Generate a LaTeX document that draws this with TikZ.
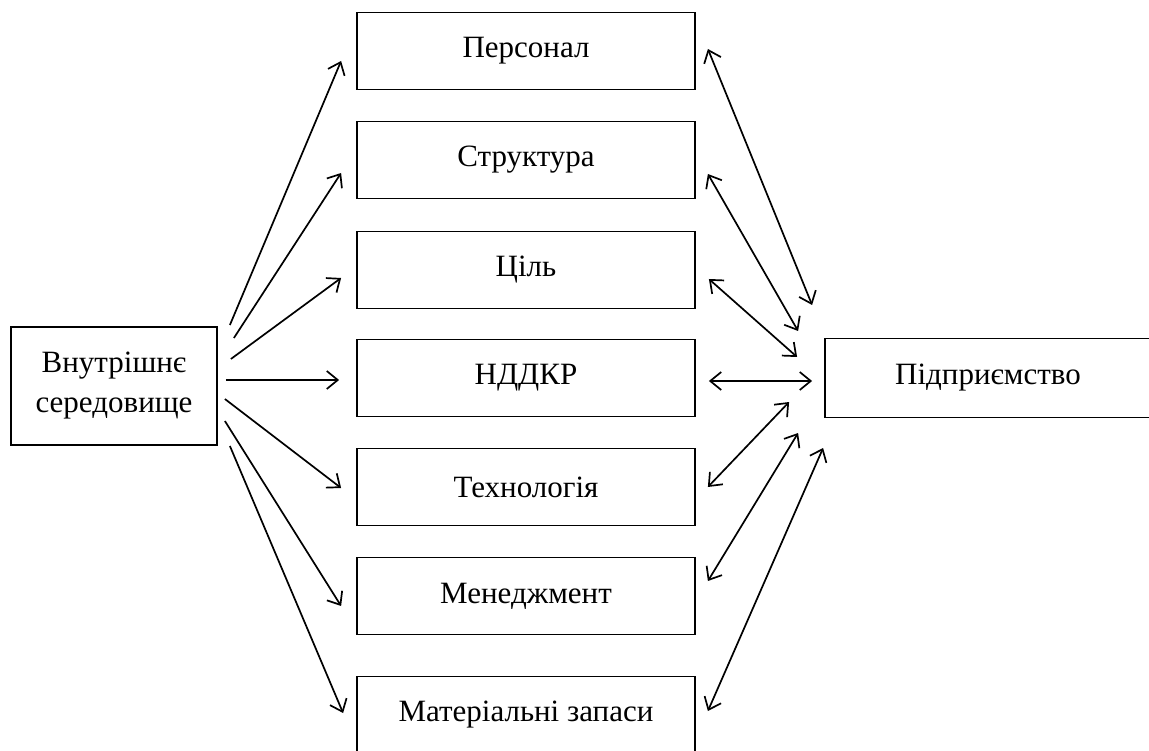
\documentclass[tikz,border=0pt]{standalone}
\usepackage{fontspec}
\setmainfont{Liberation Serif}
\usepackage{tikz}
\usetikzlibrary{arrows.meta}

\tikzset{
  unitbox/.style={draw, line width=1.8pt, inner sep=0pt, align=center,
    font=\fontsize{31}{40}\selectfont},
  midbox/.style={unitbox, minimum width=338pt, minimum height=77pt},
  link/.style={line width=1.7pt, -{Straight Barb[length=11pt, width=18pt, line width=1.7pt]}},
  duallink/.style={line width=1.7pt, {Straight Barb[length=11pt, width=18pt, line width=1.7pt]}-{Straight Barb[length=11pt, width=18pt, line width=1.7pt]}}
}

\begin{document}
\begin{tikzpicture}[x=1pt, y=-1pt]
  \useasboundingbox (0,0) rectangle (1149,751);
  \clip (0,0) rectangle (1149,751);

  % Source
  \node[unitbox, minimum width=206pt, minimum height=118pt] (inner) at (114,386) {Внутрішнє\\середовище};

  % Components
  \node[midbox] (pers)   at (526,51)  {Персонал};
  \node[midbox] (struct) at (526,160) {Структура};
  \node[midbox] (goal)   at (526,270) {Ціль};
  \node[midbox] (rnd)    at (526,378) {НДДКР};
  \node[midbox] (tech)   at (526,487) {Технологія};
  \node[midbox] (mgmt)   at (526,596) {Менеджмент};
  \node[midbox] (stock)  at (526,715) {Матеріальні запаси};

  % Target
  \node[unitbox, minimum width=326pt, minimum height=79pt] (firm) at (988,378) {Підприємство};

  % Fan out
  \draw[link] ([shift={(12,-61)}]inner.east) -- ([shift={(-15,10)}]pers.west);
  \draw[link] ([shift={(16,-48)}]inner.east) -- ([shift={(-15,13)}]struct.west);
  \draw[link] ([shift={(13,-27)}]inner.east) -- ([shift={(-15,8)}]goal.west);
  \draw[link] ([shift={(8,-6)}]inner.east) -- ([shift={(-17,2)}]rnd.west);
  \draw[link] ([shift={(7,13)}]inner.east) -- ([shift={(-15,1)}]tech.west);
  \draw[link] ([shift={(7,35)}]inner.east) -- ([shift={(-15,10)}]mgmt.west);
  \draw[link] ([shift={(12,60)}]inner.east) -- ([shift={(-13,-2)}]stock.west);

  % Two-way links
  \draw[duallink] ([shift={(12,-2)}]pers.east) -- ([shift={(-12,-73)}]firm.west);
  \draw[duallink] ([shift={(12,14)}]struct.east) -- ([shift={(-26,-47)}]firm.west);
  \draw[duallink] ([shift={(13,9)}]goal.east) -- ([shift={(-27,-21)}]firm.west);
  \draw[duallink] ([shift={(13,3)}]rnd.east) -- ([shift={(-12,3)}]firm.west);
  \draw[duallink] ([shift={(12,0)}]tech.east) -- ([shift={(-35,24)}]firm.west);
  \draw[duallink] ([shift={(12,-15)}]mgmt.east) -- ([shift={(-26,55)}]firm.west);
  \draw[duallink] ([shift={(12,-4)}]stock.east) -- ([shift={(-1,70)}]firm.west);
\end{tikzpicture}
\end{document}
